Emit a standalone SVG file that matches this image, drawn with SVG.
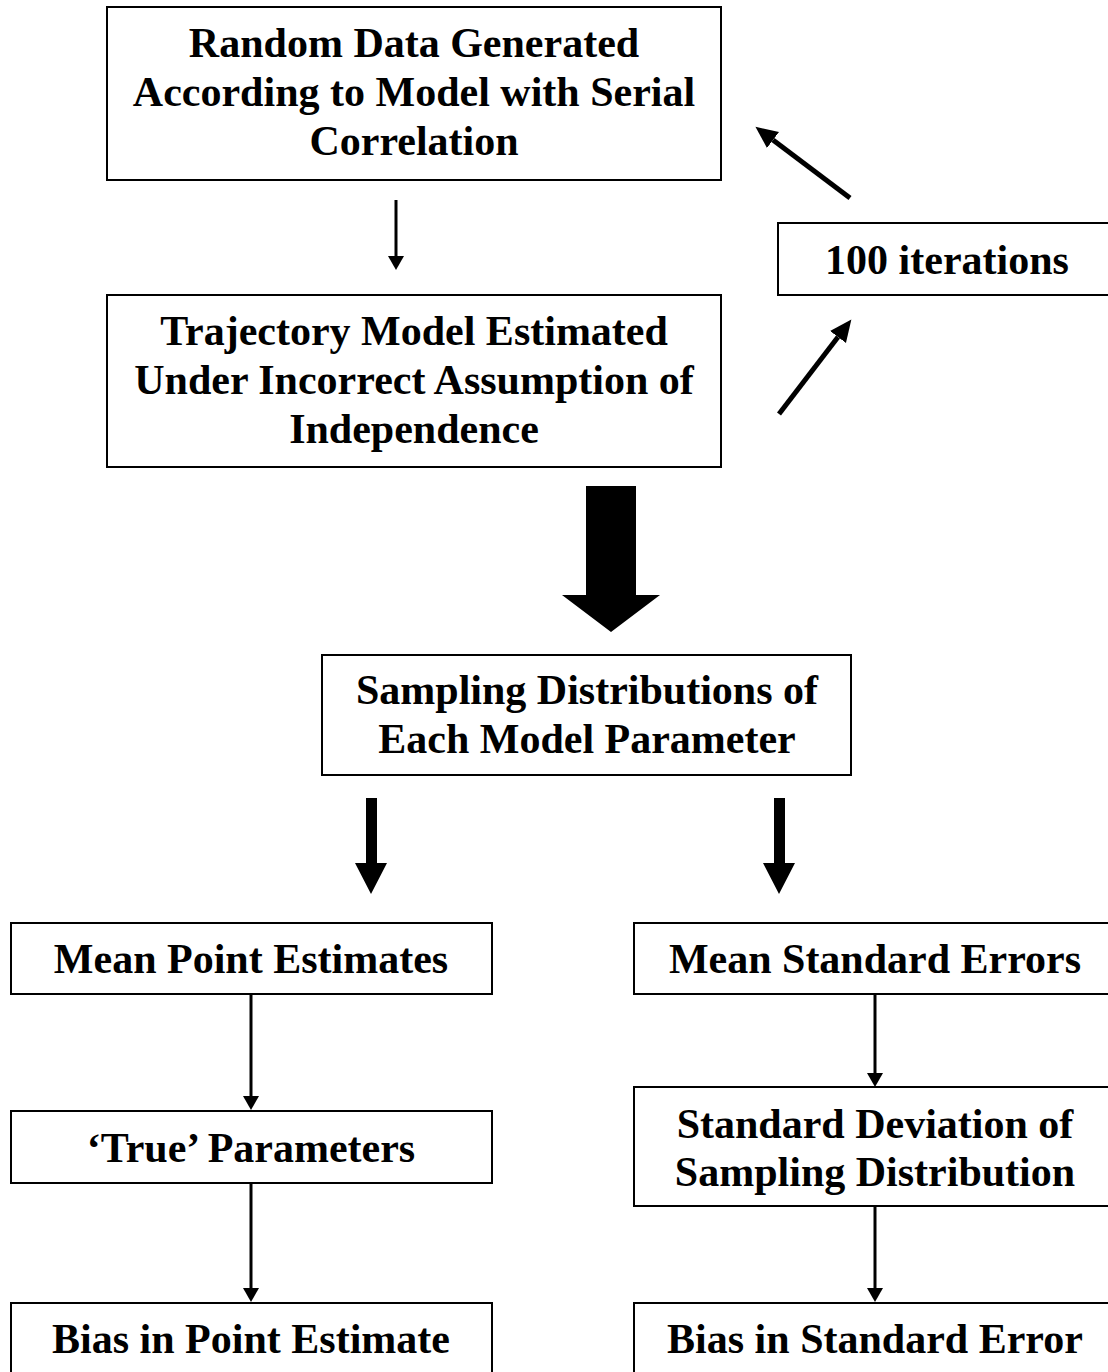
<svg xmlns="http://www.w3.org/2000/svg" width="1108" height="1372" viewBox="0 0 1108 1372">
<style>
.box{fill:#fff;stroke:#000;stroke-width:2}
.t{font-family:"Liberation Serif","Times New Roman",serif;font-weight:bold;font-size:42px;text-anchor:middle;fill:#000}
.thin{stroke:#000;stroke-width:3;fill:none}
.diag{stroke:#000;stroke-width:5;fill:none}
.solid{fill:#000;stroke:none}
</style>
<defs>
<marker id="ah" markerUnits="userSpaceOnUse" markerWidth="15" markerHeight="17" refX="0" refY="8" orient="auto">
<path d="M0,0 L14,8 L0,16 z" fill="#000"/>
</marker>
<marker id="ahd" markerUnits="userSpaceOnUse" markerWidth="23" markerHeight="21" refX="0" refY="10" orient="auto">
<path d="M0,0 L22,10 L0,20 z" fill="#000"/>
</marker>
</defs>
<rect width="1108" height="1372" fill="#fff"/>

<g id="connectors">
<line class="thin" x1="396" y1="200" x2="396" y2="256" marker-end="url(#ah)"/>
<line class="diag" x1="850" y1="198" x2="773" y2="140" marker-end="url(#ahd)"/>
<line class="diag" x1="779" y1="414" x2="838" y2="337" marker-end="url(#ahd)"/>
<polygon class="solid" points="586,486 636,486 636,595 660,595 611,632 562,595 586,595"/>
<polygon class="solid" points="366,798 377,798 377,863 387,863 371,894 355,863 366,863"/>
<polygon class="solid" points="774,798 785,798 785,863 795,863 779,894 763,863 774,863"/>
<line class="thin" x1="251" y1="993" x2="251" y2="1096" marker-end="url(#ah)"/>
<line class="thin" x1="251" y1="1183" x2="251" y2="1288" marker-end="url(#ah)"/>
<line class="thin" x1="875" y1="994" x2="875" y2="1073" marker-end="url(#ah)"/>
<line class="thin" x1="875" y1="1206" x2="875" y2="1288" marker-end="url(#ah)"/>
</g>

<g id="random-data">
<rect class="box" x="107" y="7" width="614" height="173"/>
<text class="t" x="414" y="57">Random Data Generated</text>
<text class="t" x="414" y="106">According to Model with Serial</text>
<text class="t" x="414" y="155">Correlation</text>
</g>

<g id="trajectory-model">
<rect class="box" x="107" y="295" width="614" height="172"/>
<text class="t" x="414" y="345">Trajectory Model Estimated</text>
<text class="t" x="414" y="394">Under Incorrect Assumption of</text>
<text class="t" x="414" y="443">Independence</text>
</g>

<g id="iterations">
<rect class="box" x="778" y="223" width="340" height="72"/>
<text class="t" x="947" y="274">100 iterations</text>
</g>

<g id="sampling-distributions">
<rect class="box" x="322" y="655" width="529" height="120"/>
<text class="t" x="587" y="704">Sampling Distributions of</text>
<text class="t" x="587" y="753">Each Model Parameter</text>
</g>

<g id="mean-point-estimates">
<rect class="box" x="11" y="923" width="481" height="71"/>
<text class="t" x="251" y="973">Mean Point Estimates</text>
</g>

<g id="true-parameters">
<rect class="box" x="11" y="1111" width="481" height="72"/>
<text class="t" x="251" y="1162">‘True’ Parameters</text>
</g>

<g id="bias-point-estimate">
<rect class="box" x="11" y="1303" width="481" height="80"/>
<text class="t" x="251" y="1353">Bias in Point Estimate</text>
</g>

<g id="mean-standard-errors">
<rect class="box" x="634" y="923" width="490" height="71"/>
<text class="t" x="875" y="973">Mean Standard Errors</text>
</g>

<g id="standard-deviation">
<rect class="box" x="634" y="1087" width="490" height="119"/>
<text class="t" x="875" y="1138">Standard Deviation of</text>
<text class="t" x="875" y="1186">Sampling Distribution</text>
</g>

<g id="bias-standard-error">
<rect class="box" x="634" y="1303" width="490" height="80"/>
<text class="t" x="875" y="1353">Bias in Standard Error</text>
</g>
</svg>
